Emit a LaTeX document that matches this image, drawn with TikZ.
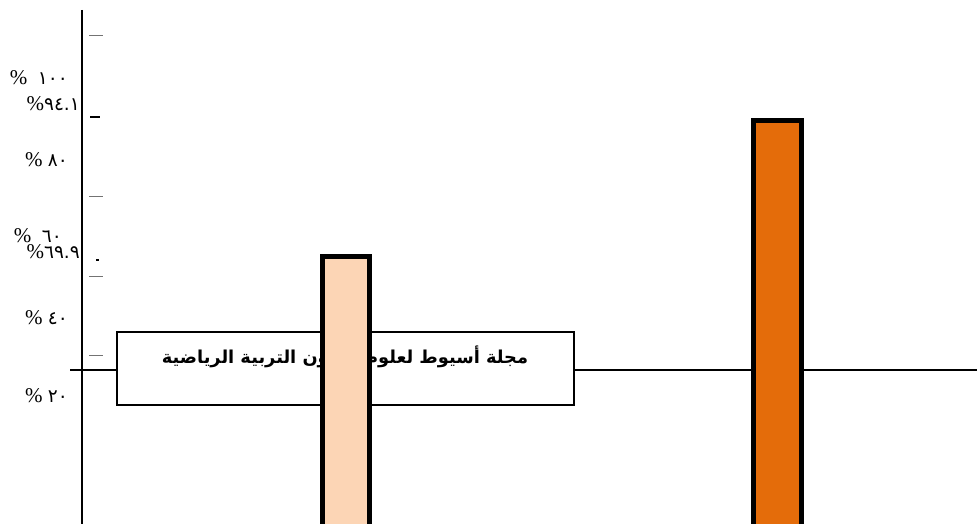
\documentclass[tikz,border=0pt]{standalone}
\usepackage{fontspec}
\setmainfont{Liberation Serif}
\newfontfamily\arabicfont[Script=Arabic]{DejaVu Sans}
\newfontfamily\digitfont{DejaVu Sans}
\TeXXeTstate=1
\definecolor{peach}{HTML}{FCD5B5}
\definecolor{darkorange}{HTML}{E46C0A}
\newcommand{\dg}[1]{{\digitfont\fontsize{18.5}{18.5}\selectfont #1}}
\tikzset{
  pctlabel/.style={anchor=east, inner sep=0pt, font=\fontsize{21}{21}\selectfont},
  tickmark/.style={draw=black!55, line width=1pt},
  barstyle/.style={draw=black, line width=5pt},
  legendbox/.style={draw=black, line width=1.3pt, fill=white, minimum width=457pt, minimum height=73pt, inner sep=0pt},
}
\begin{document}
\begin{tikzpicture}[x=1pt,y=-1pt]
\useasboundingbox (0,0) rectangle (977,524);
\clip (0,0) rectangle (977,524);
% axis
\coordinate (axtop) at (82,10);
\coordinate (axbot) at (82,530);
\draw[line width=2pt] (axtop) -- (axbot);
% ticks
\foreach \yy in {36,196,276,355} {
  \draw[tickmark] (89,\yy) -- (103,\yy);
}
\draw[line width=1.2pt] (90,117) -- (100,117);
\draw[line width=1.5pt] (96,260) -- (99,260);
% labels
\node[pctlabel] (l100) at (68,78) {\%\ \ \dg{١٠٠}};
\node[pctlabel] (l941) at (80,104) {\%\dg{٩٤.١}};
\node[pctlabel] (l80) at (68,160) {\%\ \dg{٨٠}};
\node[pctlabel] (l60) at (62,236) {\%\ \ \dg{٦٠}};
\node[pctlabel] (l699) at (80,252) {\%\dg{٦٩.٩}};
\node[pctlabel] (l40) at (68,318) {\%\ \dg{٤٠}};
\node[pctlabel] (l20) at (68,396) {\%\ \dg{٢٠}};
% legend box and baseline
\node[legendbox] (box) at (345.5,368.5) {};
\coordinate (hl) at (70,370);
\coordinate (hr) at (977,370);
\draw[line width=2pt] (hl) -- (box.west |- hl);
\draw[line width=1.3pt] (box.east |- hr) -- (hr);
\node[inner sep=0pt] (title) at (345,357) {\fontsize{17.8}{18}\selectfont\arabicfont\bfseries\beginR مجلة أسيوط لعلوم وفنون التربية الرياضية\endR};
% bars
\draw[barstyle, fill=peach] (322.5,256.5) rectangle (369.5,540);
\draw[barstyle, fill=darkorange] (753,121) rectangle (801.5,540);
\end{tikzpicture}
\end{document}
